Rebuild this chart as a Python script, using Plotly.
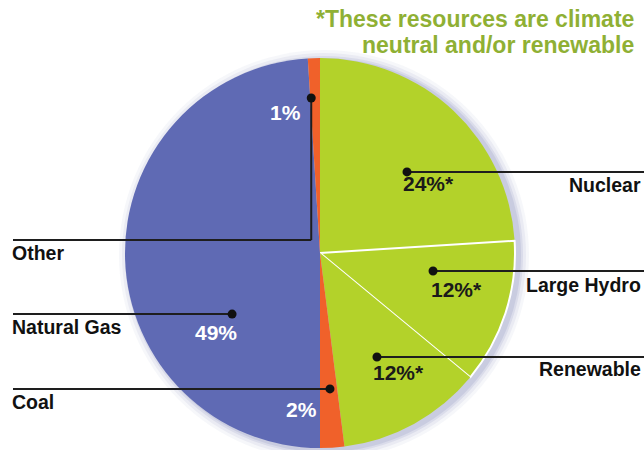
import math
import plotly.graph_objects as go

# ---- data ----
labels = ["Nuclear", "Large Hydro", "Renewable", "Coal", "Natural Gas", "Other"]
values = [24, 12, 12, 2, 49, 1]
pct_text = ["24%*", "12%*", "12%*", "2%", "49%", "1%"]
note_lines = ["*These resources are climate", "neutral and/or renewable"]

# ---- styles / layout ----
W, H = 644, 450
CX, CY, R = 320, 253, 195
slice_colors = ["#b3d22a", "#b3d22a", "#b3d22a", "#f0612a", "#5f6ab4", "#f0612a"]
line_widths = [0, 2, 0, 0, 0, 0]
pct_colors = ["#1a1a1a", "#1a1a1a", "#1a1a1a", "#ffffff", "#ffffff", "#ffffff"]
FONT = "Liberation Sans"
INK = "#1e1e1e"

# callout dot placement inside each slice: (fraction of slice angle, fraction of radius)
dot_place = [(0.544, 0.610), (0.293, 0.587), (0.502, 0.608),
             (0.417, 0.699), (0.313, 0.549), (0.10, 0.796)]
# side of the leader line and label position (pixels)
label_side = ["right", "right", "right", "left", "left", "left"]
label_pos = [(643, 185), (643, 285), (643, 369), (10, 402), (10, 327), (10, 253)]
pct_pos = [(401, 183, "left"), (429, 289, "left"), (371, 372, "left"),
           (319, 409, "right"), (216, 332, "center"), (303, 112, "right")]
OTHER_ELBOW_Y = 240

fig = go.Figure()

fig.add_trace(go.Pie(
    labels=labels, values=values, sort=False, direction="clockwise", rotation=0,
    marker=dict(colors=slice_colors, line=dict(color="white", width=line_widths)),
    textinfo="none", hoverinfo="label+percent", showlegend=False,
    domain=dict(x=[(CX - R) / W, (CX + R) / W], y=[1 - (CY + R) / H, 1 - (CY - R) / H]),
))
# invisible trace so the overlay axes exist
fig.add_trace(go.Scatter(x=[0, W], y=[0, H], mode="markers",
                         marker=dict(opacity=0), hoverinfo="skip", showlegend=False))

shapes = []
# soft shadow behind the pie
for k, a in [(10, 0.05), (7, 0.07), (4, 0.10), (2, 0.12)]:
    shapes.append(dict(type="circle", xref="x", yref="y", layer="below",
                       x0=CX + 4 - R - k, x1=CX + 4 + R + k,
                       y0=CY + 2 - R - k, y1=CY + 2 + R + k,
                       fillcolor=f"rgba(80,90,160,{a})", line=dict(width=0)))

total = sum(values)
cum = 0
annotations = []
for i, v in enumerate(values):
    start = cum / total * 360
    span = v / total * 360
    cum += v
    fa, fr = dot_place[i]
    th = math.radians(start + fa * span)
    dx = CX + fr * R * math.sin(th)
    dy = CY - fr * R * math.cos(th)
    # leader lines
    if labels[i] == "Other":
        shapes.append(dict(type="line", xref="x", yref="y", x0=dx, y0=dy, x1=dx, y1=OTHER_ELBOW_Y,
                           line=dict(color=INK, width=2)))
        shapes.append(dict(type="line", xref="x", yref="y", x0=dx, y0=OTHER_ELBOW_Y, x1=13, y1=OTHER_ELBOW_Y,
                           line=dict(color=INK, width=2)))
    elif label_side[i] == "right":
        shapes.append(dict(type="line", xref="x", yref="y", x0=dx, y0=dy, x1=W, y1=dy,
                           line=dict(color=INK, width=2)))
    else:
        shapes.append(dict(type="line", xref="x", yref="y", x0=13, y0=dy, x1=dx, y1=dy,
                           line=dict(color=INK, width=2)))
    shapes.append(dict(type="circle", xref="x", yref="y", x0=dx - 4.5, x1=dx + 4.5,
                       y0=dy - 4.5, y1=dy + 4.5, fillcolor="#111111", line=dict(width=0)))
    lx, ly = label_pos[i]
    annotations.append(dict(x=lx, y=ly, xref="x", yref="y", text=labels[i], showarrow=False,
                            xanchor="right" if label_side[i] == "right" else "left", yanchor="middle",
                            font=dict(family=FONT, size=19.5, color="#111111", weight="bold")))
    px, py, pa = pct_pos[i]
    annotations.append(dict(x=px, y=py, xref="x", yref="y", text=pct_text[i], showarrow=False,
                            xanchor=pa, yanchor="middle",
                            font=dict(family=FONT, size=21, color=pct_colors[i], weight="bold")))

for j, t in enumerate(note_lines):
    annotations.append(dict(x=636, y=19 + 26 * j, xref="x", yref="y", text=t, showarrow=False,
                            xanchor="right", yanchor="middle",
                            font=dict(family=FONT, size=23, color="#8fb034", weight="bold")))

fig.update_layout(
    width=W, height=H, margin=dict(l=0, r=0, t=0, b=0),
    paper_bgcolor="white", plot_bgcolor="rgba(0,0,0,0)",
    xaxis=dict(range=[0, W], visible=False, fixedrange=True, domain=[0, 1]),
    yaxis=dict(range=[H, 0], visible=False, fixedrange=True, domain=[0, 1]),
    shapes=shapes, annotations=annotations,
)

fig.write_html("out.html", config={"displayModeBar": False},
               post_script="document.body.style.margin='0';document.body.style.overflow='hidden';")
